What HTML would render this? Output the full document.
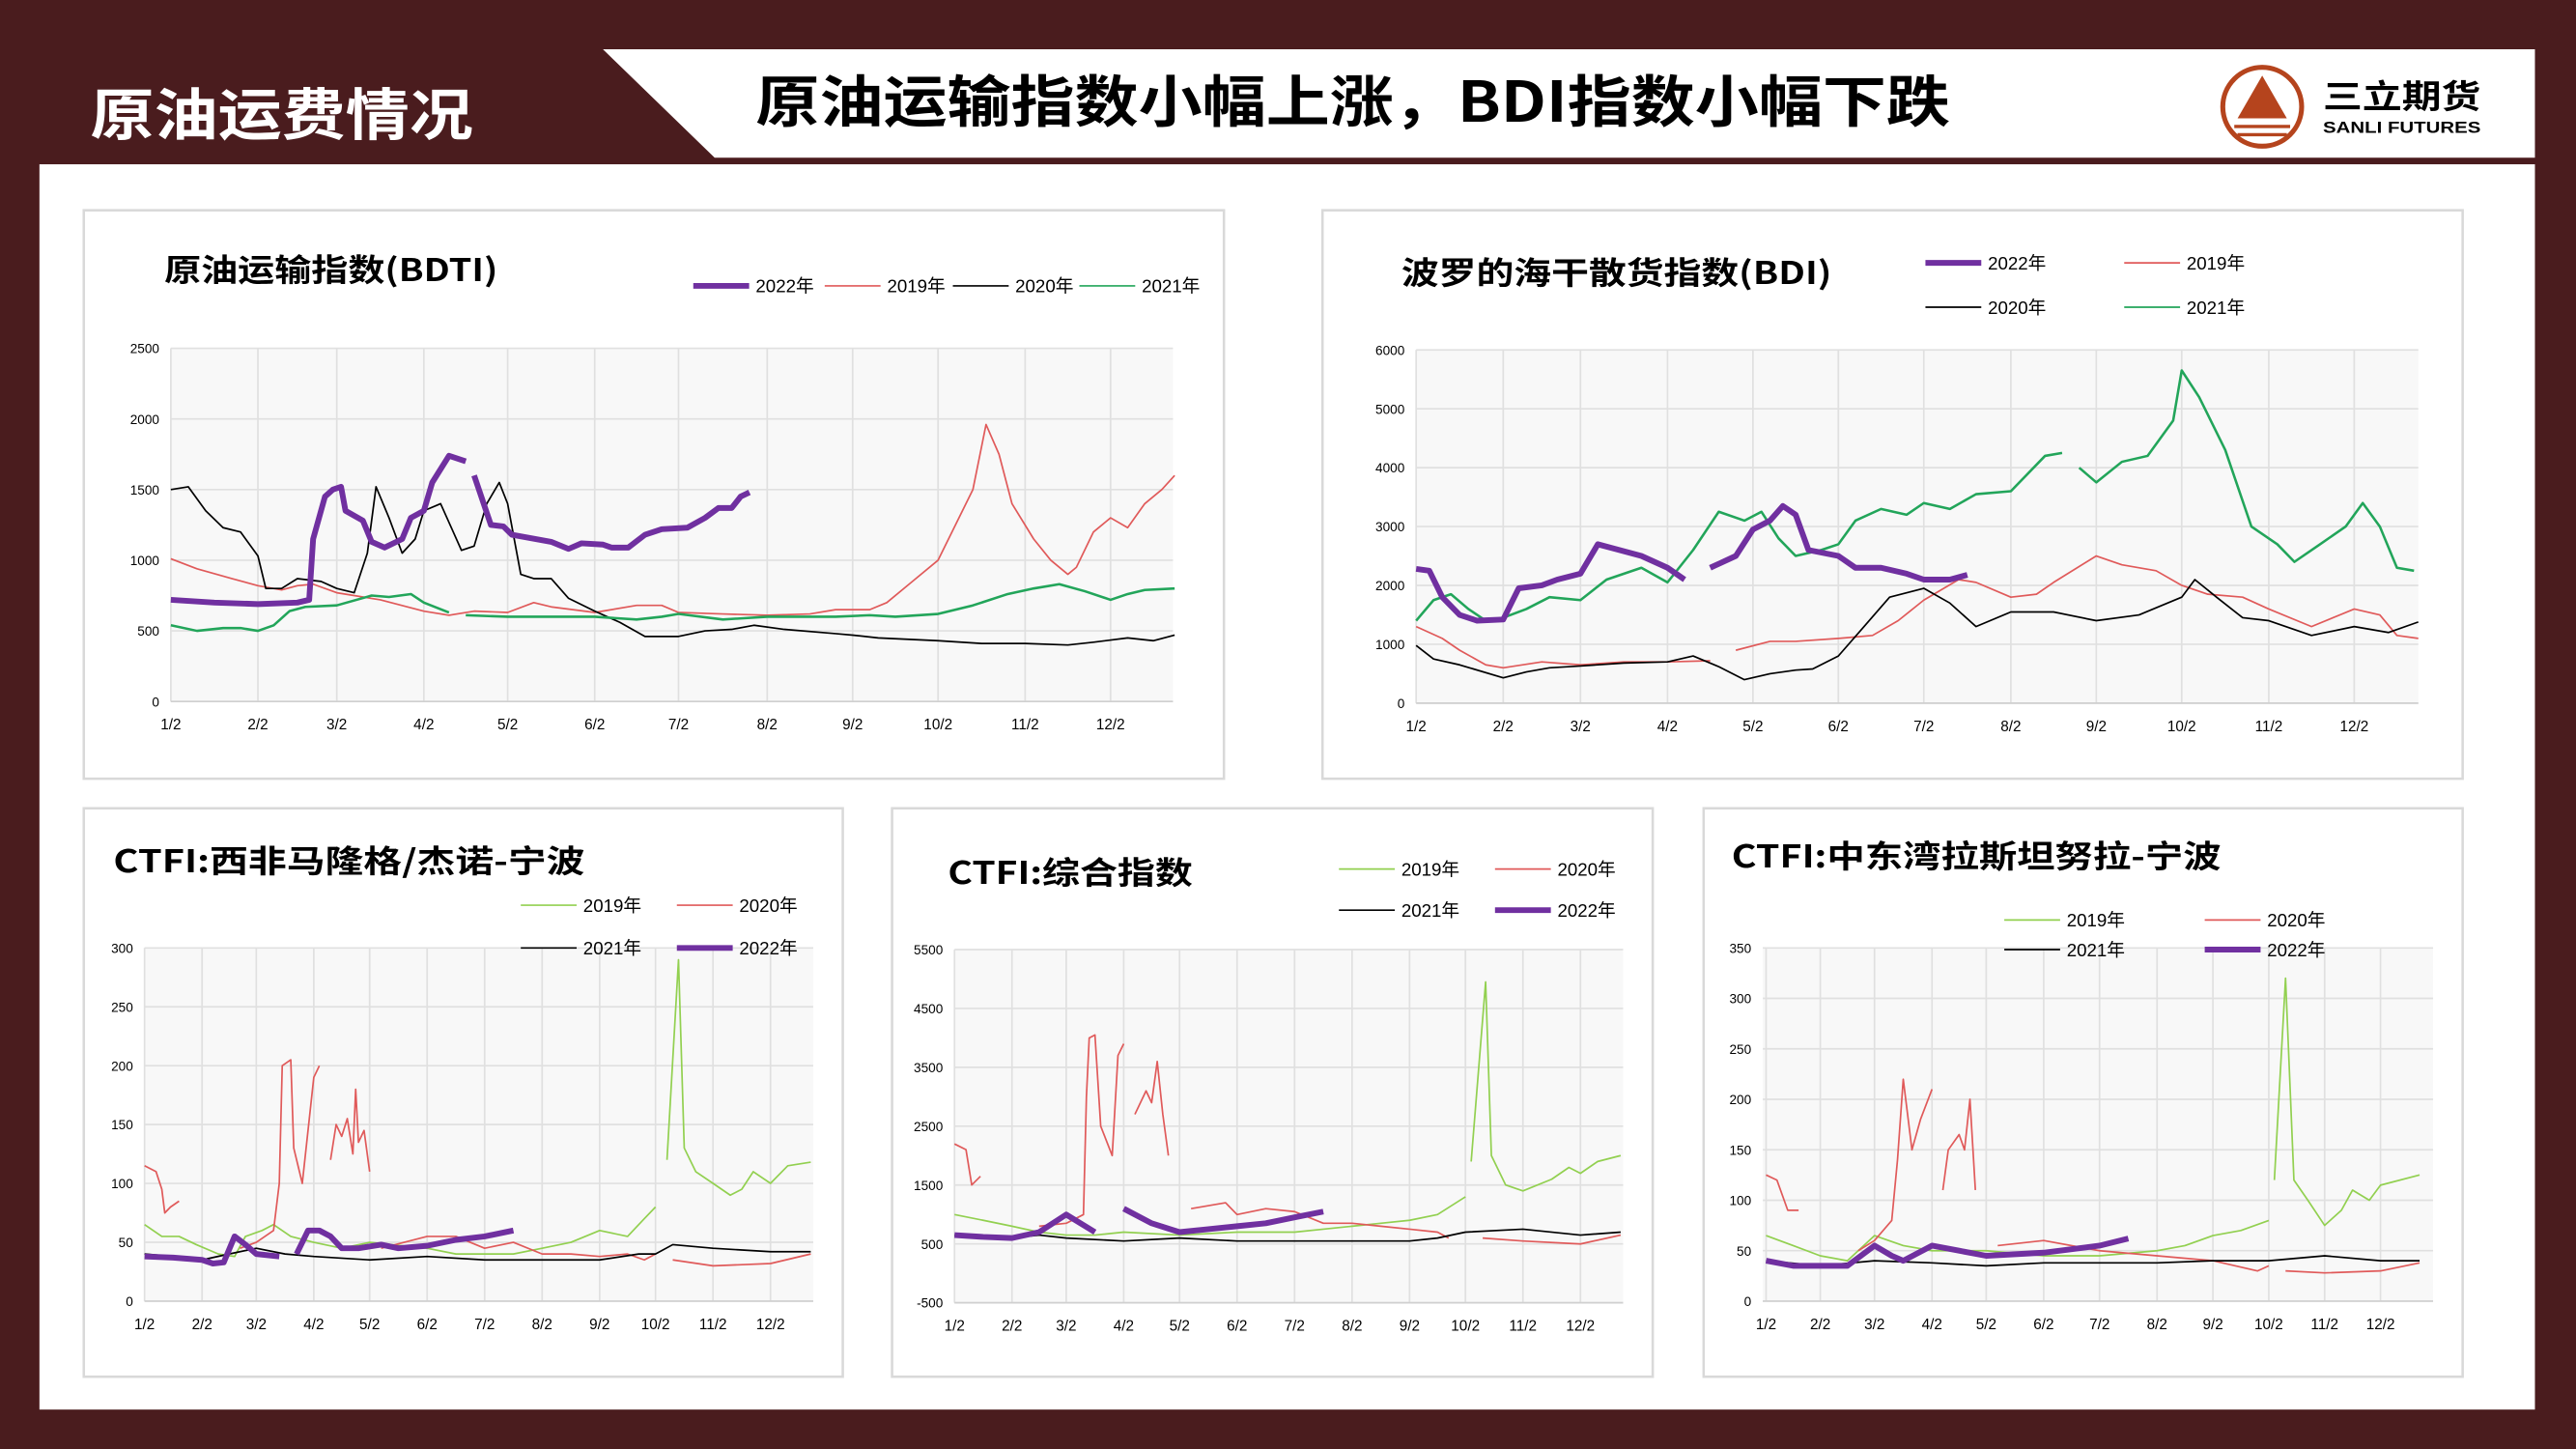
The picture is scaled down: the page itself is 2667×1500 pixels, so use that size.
<!DOCTYPE html>
<html><head><meta charset="utf-8">
<style>
html,body{margin:0;padding:0;background:#4a1c1e;}
svg{display:block;}
text{font-family:"Liberation Sans","Noto Sans CJK SC",sans-serif;}
.cj{font-family:"Noto Sans CJK SC","WenQuanYi Zen Hei",sans-serif;font-weight:bold;}
</style></head>
<body>
<svg id="s" width="2667" height="1500" viewBox="0 0 1568 882" preserveAspectRatio="none" xmlns="http://www.w3.org/2000/svg">
<rect x="0" y="0" width="1568" height="882" fill="#4a1c1e"/>
<rect x="24" y="100" width="1519" height="758" fill="#ffffff"/>
<polygon points="367,30 1543,30 1543,96 435,96" fill="#ffffff"/>
<text x="55" y="82" class="cj" font-size="34" fill="#ffffff" textLength="233" lengthAdjust="spacingAndGlyphs">原油运费情况</text>
<text x="460" y="74" class="cj" font-size="34" fill="#000" textLength="727" lengthAdjust="spacingAndGlyphs">原油运输指数小幅上涨，BDI指数小幅下跌</text>
<circle cx="1377" cy="65" r="24" fill="none" stroke="#b5441d" stroke-width="3"/>
<polygon points="1377,46 1362,72 1392,72" fill="#b5441d"/>
<line x1="1360" y1="77" x2="1394" y2="77" stroke="#b5441d" stroke-width="2"/>
<line x1="1362" y1="82" x2="1392" y2="82" stroke="#b5441d" stroke-width="2"/>
<text x="1414" y="66" class="cj" font-size="20" fill="#000" textLength="96" lengthAdjust="spacingAndGlyphs">三立期货</text>
<text x="1414" y="81" font-size="10" font-weight="bold" fill="#000" textLength="96" lengthAdjust="spacingAndGlyphs">SANLI FUTURES</text>
<g id="charts"></g>
</svg>
<script>
var NS="http://www.w3.org/2000/svg",G=document.getElementById("charts");
function el(t,a,txt){var e=document.createElementNS(NS,t);for(var k in a)e.setAttribute(k,a[k]);if(txt!=null)e.textContent=txt;G.appendChild(e);return e;}
var C={p:"#7030a0",r:"#e05a5a",k:"#000000",g:"#22a55a",lg:"#92d050"};
function chart(o){
 el("rect",{x:o.box[0],y:o.box[1],width:o.box[2]-o.box[0],height:o.box[3]-o.box[1],fill:"#fff",stroke:"#d9d9d9","stroke-width":1.5});
 el("text",{x:o.title[0],y:o.title[1],"class":"cj","font-size":19,fill:"#000",textLength:o.title[3],lengthAdjust:"spacingAndGlyphs"},o.title[2]);
 var px0=o.px[0],px1=o.px[1],py0=o.py[0],py1=o.py[1];
 el("rect",{x:px0,y:py0,width:px1-px0,height:py1-py0,fill:"#f8f8f8"});
 var t=o.ticks;
 for(var i=0;i<o.yl.length;i++){var v=o.yl[i],y=py1-(v-o.ymin)/(o.ymax-o.ymin)*(py1-py0);
  el("line",{x1:px0,x2:px1,y1:y,y2:y,stroke:"#e0e0e0","stroke-width":1});
  el("text",{x:px0-7,y:y+3,"font-size":8,"text-anchor":"end",fill:"#000"},v);}
 var ml=["1/2","2/2","3/2","4/2","5/2","6/2","7/2","8/2","9/2","10/2","11/2","12/2"];
 for(i=0;i<12;i++){el("line",{x1:t[i],x2:t[i],y1:py0,y2:py1,stroke:"#e0e0e0","stroke-width":1});
  el("text",{x:t[i],y:py1+17,"font-size":9,"text-anchor":"middle",fill:"#000"},ml[i]);}
 el("line",{x1:px0,x2:px1,y1:py1,y2:py1,stroke:"#d0d0d0","stroke-width":1});
 function X(m){var k=Math.floor(m);if(k>=11)k=10;if(k<0)k=0;return t[k]+(m-k)*(t[k+1]-t[k]);}
 function Y(v){return py1-(v-o.ymin)/(o.ymax-o.ymin)*(py1-py0);}
 o.series.forEach(function(s){s.d.forEach(function(seg){
  var p=seg.map(function(q){return X(q[0]).toFixed(1)+","+Y(q[1]).toFixed(1);}).join(" ");
  el("polyline",{points:p,fill:"none",stroke:s.c,"stroke-width":s.w,"stroke-linejoin":"round"});});});
 o.leg.forEach(function(l){el("line",{x1:l[0],x2:l[0]+34,y1:l[1],y2:l[1],stroke:l[2],"stroke-width":l[3]});
  el("text",{x:l[0]+38,y:l[1]+4,"font-size":11,fill:"#000"},l[4]);});
}
// BDTI
chart({box:[51,128,745,474],title:[100,171,"原油运输指数(BDTI)",203],px:[104,714],py:[212,427],ymin:0,ymax:2500,yl:[0,500,1000,1500,2000,2500],
ticks:[104,157,205,258,309,362,413,467,519,571,624,676],
leg:[[422,174,C.p,3.5,"2022年"],[502,174,C.r,1,"2019年"],[580,174,C.k,1,"2020年"],[657,174,C.g,1,"2021年"]],
series:[
{c:C.r,w:1,d:[[[0,1010],[0.3,940],[0.7,870],[1,820],[1.3,790],[1.5,820],[1.7,830],[2,770],[2.5,720],[3,640],[3.3,610],[3.6,640],[4,630],[4.3,700],[4.5,670],[5,630],[5.5,680],[5.8,680],[6,630],[6.5,620],[7,610],[7.5,620],[7.8,650],[8.2,650],[8.4,700],[8.7,850],[9,1000],[9.2,1250],[9.4,1500],[9.55,1960],[9.7,1750],[9.85,1400],[10.1,1150],[10.3,1000],[10.5,900],[10.6,950],[10.8,1200],[11,1300],[11.2,1230],[11.4,1400],[11.6,1500],[11.75,1600]]]},
{c:C.k,w:1,d:[[[0,1500],[0.2,1520],[0.4,1350],[0.6,1230],[0.8,1200],[1,1030],[1.1,800],[1.3,800],[1.5,870],[1.8,850],[2,800],[2.2,770],[2.35,1050],[2.45,1520],[2.6,1300],[2.75,1050],[2.9,1150],[3.0,1350],[3.2,1400],[3.35,1200],[3.45,1070],[3.6,1100],[3.75,1400],[3.9,1550],[4.0,1400],[4.15,900],[4.3,870],[4.5,870],[4.7,730],[5.0,640],[5.3,560],[5.6,460],[6,460],[6.3,500],[6.6,510],[6.85,540],[7.2,510],[7.8,480],[8,470],[8.3,450],[9,430],[9.5,410],[10,410],[10.5,400],[10.8,420],[11.2,450],[11.5,430],[11.75,470]]]},
{c:C.g,w:1.5,d:[[[0,540],[0.3,500],[0.6,520],[0.8,520],[1,500],[1.2,540],[1.4,640],[1.6,670],[2,680],[2.4,750],[2.6,740],[2.85,760],[3,700],[3.3,630]],[[3.5,610],[4,600],[5,600],[5.5,580],[5.8,600],[6,620],[6.5,580],[7,600],[7.8,600],[8.2,610],[8.5,600],[9,620],[9.4,680],[9.8,760],[10.1,800],[10.4,830],[10.7,780],[11,720],[11.2,760],[11.4,790],[11.75,800]]]},
{c:C.p,w:3.5,d:[[[0,720],[0.5,700],[1,690],[1.5,700],[1.65,720],[1.7,1150],[1.85,1450],[1.95,1500],[2.05,1520],[2.1,1350],[2.3,1280],[2.4,1130],[2.55,1090],[2.75,1150],[2.85,1300],[3.0,1350],[3.1,1550],[3.3,1740],[3.5,1700]],[[3.6,1600],[3.8,1250],[3.95,1240],[4.05,1180],[4.5,1130],[4.7,1080],[4.85,1120],[5.1,1110],[5.2,1090],[5.4,1090],[5.6,1180],[5.8,1220],[6.1,1230],[6.3,1300],[6.45,1370],[6.6,1370],[6.7,1450],[6.8,1480]]]}
]});
// BDI
chart({box:[805,128,1499,474],title:[853,173,"波罗的海干散货指数(BDI)",262],px:[862,1472],py:[213,428],ymin:0,ymax:6000,yl:[0,1000,2000,3000,4000,5000,6000],
ticks:[862,915,962,1015,1067,1119,1171,1224,1276,1328,1381,1433],
leg:[[1172,160,C.p,3.5,"2022年"],[1293,160,C.r,1,"2019年"],[1172,187,C.k,1,"2020年"],[1293,187,C.g,1,"2021年"]],
series:[
{c:C.r,w:1,d:[[[0,1300],[0.3,1100],[0.5,900],[0.8,650],[1,600],[1.5,700],[2,650],[2.5,700],[3,700],[3.5,720]],[[3.8,900],[4.2,1050],[4.5,1050],[5,1100],[5.4,1150],[5.7,1400],[6,1750],[6.4,2100],[6.6,2050],[7,1800],[7.3,1850],[7.5,2050],[8,2500],[8.3,2350],[8.7,2250],[9,2000],[9.3,1850],[9.7,1800],[10,1600],[10.5,1300],[11,1600],[11.3,1500],[11.5,1150],[11.75,1100]]]},
{c:C.k,w:1,d:[[[0,980],[0.2,750],[0.5,650],[1,430],[1.3,530],[1.6,600],[2,630],[2.5,680],[3,700],[3.3,800],[3.6,620],[3.9,400],[4.2,500],[4.5,560],[4.7,580],[5,800],[5.3,1300],[5.6,1800],[6,1950],[6.3,1700],[6.6,1300],[7,1550],[7.5,1550],[8,1400],[8.5,1500],[9,1800],[9.15,2100],[9.4,1800],[9.7,1450],[10,1400],[10.5,1150],[11,1300],[11.4,1200],[11.75,1380]]]},
{c:C.g,w:1.5,d:[[[0,1400],[0.2,1750],[0.4,1850],[0.6,1600],[0.8,1400],[1,1450],[1.3,1600],[1.6,1800],[2,1750],[2.3,2100],[2.7,2300],[3,2050],[3.3,2600],[3.6,3250],[3.9,3100],[4.1,3250],[4.3,2800],[4.5,2500],[4.8,2600],[5,2700],[5.2,3100],[5.5,3300],[5.8,3200],[6,3400],[6.3,3300],[6.6,3550],[7,3600],[7.4,4200],[7.6,4250]],[[7.8,4000],[8.0,3750],[8.3,4100],[8.6,4200],[8.9,4800],[9.0,5650],[9.2,5200],[9.5,4300],[9.8,3000],[10.1,2700],[10.3,2400],[10.6,2700],[10.9,3000],[11.1,3400],[11.3,3000],[11.5,2300],[11.7,2250]]]},
{c:C.p,w:3.5,d:[[[0,2280],[0.15,2250],[0.3,1800],[0.5,1500],[0.7,1400],[1,1420],[1.2,1950],[1.5,2000],[1.7,2100],[2.0,2200],[2.2,2700],[2.4,2620],[2.7,2500],[3,2300],[3.2,2100]],[[3.5,2300],[3.8,2500],[4.0,2950],[4.2,3100],[4.35,3350],[4.5,3200],[4.65,2600],[5,2500],[5.2,2300],[5.5,2300],[5.8,2200],[6,2100],[6.3,2100],[6.5,2180]]]}
]});
// CTFI West Africa
chart({box:[51,492,513,838],title:[69,531,"CTFI:西非马隆格/杰诺-宁波",287],px:[88,495],py:[577,792],ymin:0,ymax:300,yl:[0,50,100,150,200,250,300],
ticks:[88,123,156,191,225,260,295,330,365,399,434,469],
leg:[[317,551,C.lg,1,"2019年"],[412,551,C.r,1,"2020年"],[317,577,C.k,1,"2021年"],[412,577,C.p,3.5,"2022年"]],
series:[
{c:C.lg,w:1,d:[[[0,65],[0.3,55],[0.6,55],[0.9,48],[1.3,40],[1.6,38],[1.8,55],[2.1,60],[2.3,65],[2.6,55],[3,50],[3.5,45],[4,50],[5,45],[5.5,40],[6,40],[6.5,40],[7,45],[7.5,50],[8,60],[8.5,55],[8.8,70],[9,80]],[[9.2,120],[9.4,290],[9.5,130],[9.7,110],[10,100],[10.3,90],[10.5,95],[10.7,110],[11,100],[11.3,115],[11.7,118]]]},
{c:C.r,w:1,d:[[[0,115],[0.2,110],[0.3,95],[0.35,75],[0.45,80],[0.6,85]],[[1.7,45],[2,50],[2.3,60],[2.4,100],[2.45,200],[2.6,205],[2.65,130],[2.8,100],[3,190],[3.1,200]],[[3.3,120],[3.4,150],[3.5,140],[3.6,155],[3.7,125],[3.75,180],[3.8,135],[3.9,145],[4,110]],[[4.2,45],[5,55],[5.5,55],[6,45],[6.5,50],[7,40],[7.5,40],[8,38],[8.5,40],[8.8,35],[9,40]],[[9.3,35],[10,30],[11,32],[11.7,40]]]},
{c:C.k,w:1,d:[[[0,40],[0.5,38],[1,35],[1.5,40],[2,45],[2.5,40],[3,38],[4,35],[5,38],[6,35],[7,35],[8,35],[8.7,40],[9,40],[9.3,48],[10,45],[11,42],[11.7,42]]]},
{c:C.p,w:3.5,d:[[[0,38],[0.5,37],[1,35],[1.2,32],[1.4,33],[1.6,55],[1.8,48],[2,40],[2.4,38]],[[2.7,40],[2.9,60],[3.1,60],[3.3,55],[3.5,45],[3.8,45],[4.2,48],[4.5,45],[5,47],[5.5,52],[6,55],[6.5,60]]]}
]});
// CTFI composite
chart({box:[543,492,1006,838],title:[577,538,"CTFI:综合指数",149],px:[581,988],py:[578,793],ymin:-500,ymax:5500,yl:[-500,500,1500,2500,3500,4500,5500],
ticks:[581,616,649,684,718,753,788,823,858,892,927,962],
leg:[[815,529,C.lg,1,"2019年"],[910,529,C.r,1,"2020年"],[815,554,C.k,1,"2021年"],[910,554,C.p,3.5,"2022年"]],
series:[
{c:C.lg,w:1,d:[[[0,1000],[0.5,900],[1,800],[1.5,700],[2,650],[2.5,650],[3,700],[4,650],[5,700],[6,700],[6.5,750],[7,800],[7.5,850],[8,900],[8.5,1000],[9,1300]],[[9.1,1900],[9.35,4950],[9.45,2000],[9.7,1500],[10,1400],[10.5,1600],[10.8,1800],[11,1700],[11.3,1900],[11.7,2000]]]},
{c:C.r,w:1,d:[[[0,2200],[0.2,2100],[0.3,1500],[0.45,1650]],[[1.5,800],[2,850],[2.3,1000],[2.35,3000],[2.4,4000],[2.5,4050],[2.6,2500],[2.8,2000],[2.9,3700],[3.0,3900]],[[3.2,2700],[3.4,3100],[3.5,2900],[3.6,3600],[3.7,2700],[3.8,2000]],[[4.2,1100],[4.8,1200],[5,1000],[5.5,1100],[6,1050],[6.5,850],[7,850],[7.5,800],[8,750],[8.5,700],[8.7,600]],[[9.3,600],[10,550],[11,500],[11.7,650]]]},
{c:C.k,w:1,d:[[[0,650],[0.5,600],[1,600],[1.5,650],[2,600],[3,550],[4,600],[5,550],[6,550],[7,550],[8,550],[8.5,600],[9,700],[10,750],[11,650],[11.7,700]]]},
{c:C.p,w:3.5,d:[[[0,650],[0.5,620],[1,600],[1.5,700],[2,1000],[2.5,700]],[[3,1100],[3.5,850],[4,700],[4.5,750],[5,800],[5.5,850],[6,950],[6.5,1050]]]}
]});
// CTFI Middle East
chart({box:[1037,492,1499,838],title:[1054,528,"CTFI:中东湾拉斯坦努拉-宁波",298],px:[1073,1481],py:[577,792],ymin:0,ymax:350,yl:[0,50,100,150,200,250,300,350],
ticks:[1075,1108,1141,1176,1209,1244,1278,1313,1347,1381,1415,1449],
leg:[[1220,560,C.lg,1,"2019年"],[1342,560,C.r,1,"2020年"],[1220,578,C.k,1,"2021年"],[1342,578,C.p,3.5,"2022年"]],
series:[
{c:C.lg,w:1,d:[[[0,65],[0.5,55],[1,45],[1.5,40],[2,65],[2.5,55],[3,50],[4,50],[5,45],[6,45],[7,50],[7.5,55],[8,65],[8.5,70],[9,80]],[[9.1,120],[9.3,320],[9.45,120],[9.7,100],[10,75],[10.3,90],[10.5,110],[10.8,100],[11,115],[11.7,125]]]},
{c:C.r,w:1,d:[[[0,125],[0.2,120],[0.4,90],[0.6,90]],[[1.7,50],[2,60],[2.3,80],[2.4,140],[2.5,220],[2.65,150],[2.8,180],[3,210]],[[3.2,110],[3.3,150],[3.5,165],[3.6,150],[3.7,200],[3.8,110]],[[4.2,55],[5,60],[6,50],[7,45],[8,40],[8.8,30],[9,35]],[[9.3,30],[10,28],[11,30],[11.7,38]]]},
{c:C.k,w:1,d:[[[0,40],[1,35],[2,40],[3,38],[4,35],[5,38],[6,38],[7,38],[8,40],[9,40],[10,45],[11,40],[11.7,40]]]},
{c:C.p,w:3.5,d:[[[0,40],[0.5,35],[1,35],[1.5,35],[2,55],[2.3,45],[2.5,40],[3,55],[3.5,50],[4,45],[5,48],[6,55],[6.5,62]]]}
]});
</script>
</body></html>
